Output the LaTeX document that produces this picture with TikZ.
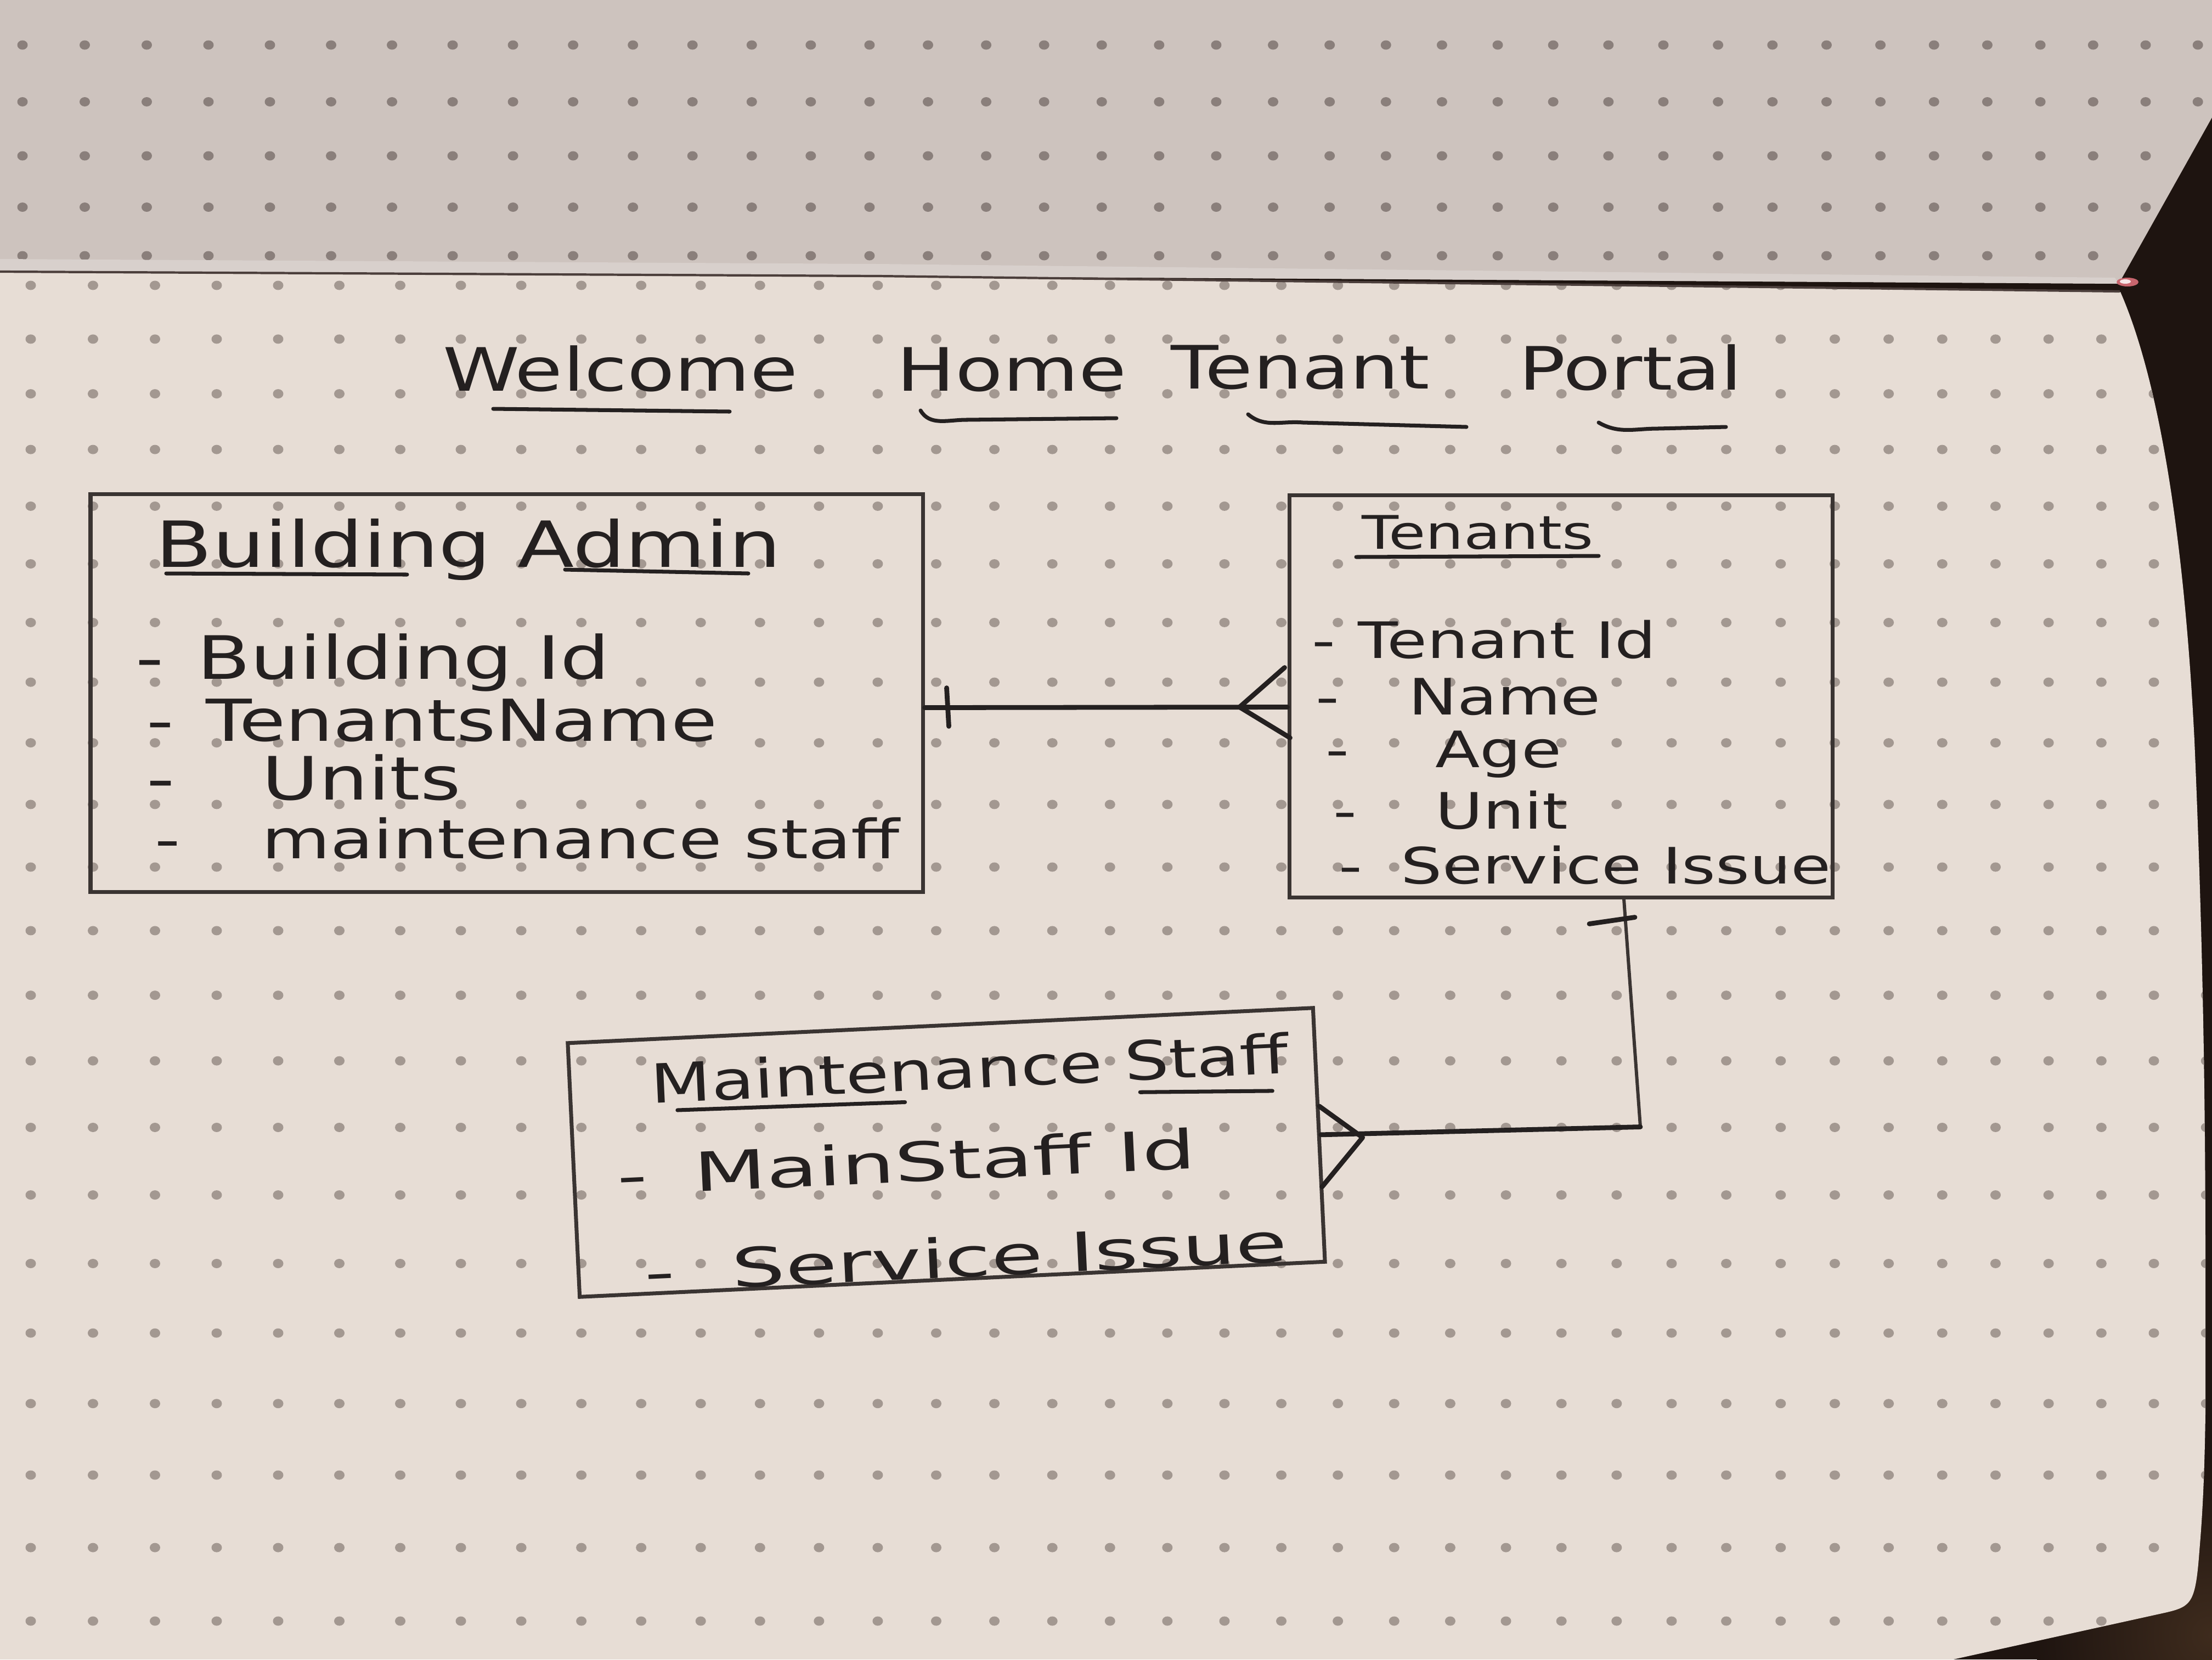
\documentclass[tikz,border=0pt]{standalone}
\usepackage{graphicx}
\usepackage{fontspec}
\setmainfont{DejaVu Sans}[FakeStretch=1.3]
\usetikzlibrary{calc}

\definecolor{paper}{HTML}{E7DDD5}
\definecolor{paperup}{HTML}{CDC3BE}
\definecolor{backdrop}{HTML}{1E1410}
\definecolor{backglow}{HTML}{3E2B1D}
\definecolor{dotlow}{HTML}{A39891}
\definecolor{dotup}{HTML}{8A7F7B}
\definecolor{ink}{HTML}{242020}
\definecolor{pencil}{HTML}{3A3432}
\definecolor{foldline}{HTML}{4B3E3B}
\definecolor{foldhi}{HTML}{D8D0CC}
\definecolor{ribbon}{HTML}{C8666E}

\newcommand{\fsz}[1]{\fontsize{#1}{#1}\selectfont}

\tikzset{
  entity/.style={draw=pencil, line width=2pt, rectangle, inner sep=0pt},
  handtext/.style={inner sep=0pt, anchor=base west, text=ink},
  titleword/.style={inner sep=0pt, anchor=base, text=ink, font={\fsz{31}}},
  uline/.style={draw=ink, line width=2pt, line cap=round},
  link/.style={draw=ink, line width=2.5pt, line cap=round, line join=round},
  thinlink/.style={draw=pencil, line width=1.7pt, line cap=round, line join=round},
}

\begin{document}
\begin{tikzpicture}
\useasboundingbox (0,0) rectangle (40.32,-30.24);

% backdrop behind the notebook
\fill[backdrop] (0,0) rectangle (40.32,-30.24);
\shade[inner color=backglow, outer color=backdrop] (40.3,-29.8) circle (3.2);

% facing page (top)
\fill[paperup] (0,0) -- (40.32,0) -- (40.32,-2.14) -- (38.62,-5.17) -- (16,-5.03) -- (0,-4.95) -- cycle;
\begin{scope}
  \clip (0,0) -- (40.32,0) -- (40.32,-2.14) -- (38.62,-5.17) -- (16,-5.03) -- (0,-4.95) -- cycle;
  \foreach \i in {0,...,38}{
    \foreach \k in {0,...,4}{
      \pgfmathsetmacro\px{0.41+1.1374*\i-0.002467*\i*\i}
      \pgfmathsetmacro\py{-(4.66-0.86*\k-0.025*\k*\k)}
      \fill[dotup] (\px,\py) ellipse (0.095 and 0.085);
    }
  }
\end{scope}
\fill[foldhi] (0,-4.72) -- (16,-4.81) -- (38.55,-5.06) -- (38.62,-5.17) -- (16,-5.03) -- (0,-4.95) -- cycle;

% writing page (bottom)
\fill[paper] (0,-4.95) -- (16,-5.03) -- (38.65,-5.32)
  .. controls (39.3,-6.8) and (39.8,-9.5) .. (40.0,-13.5)
  .. controls (40.15,-17) and (40.2,-20) .. (40.2,-23)
  -- (40.2,-25.75) .. controls (40.18,-27.2) and (40.12,-27.9) .. (40.09,-28.26)
  .. controls (40.02,-29.2) and (39.95,-29.27) .. (39.5,-29.38)
  -- (35.6,-30.24) -- (0,-30.24) -- cycle;
\begin{scope}
  \clip (0,-4.95) -- (16,-5.03) -- (38.65,-5.32)
  .. controls (39.3,-6.8) and (39.8,-9.5) .. (40.0,-13.5)
  .. controls (40.15,-17) and (40.2,-20) .. (40.2,-23)
  -- (40.2,-25.75) .. controls (40.18,-27.2) and (40.12,-27.9) .. (40.09,-28.26)
  .. controls (40.02,-29.2) and (39.95,-29.27) .. (39.5,-29.38)
  -- (35.6,-30.24) -- (0,-30.24) -- cycle;
  \foreach \i in {0,...,38}{
    \foreach \j in {0,...,24}{
      \pgfmathsetmacro\px{0.56+1.1374*\i-0.002467*\i*\i}
      \pgfmathsetmacro\py{-(5.20+0.97*\j+0.009*\j*\j)}
      \fill[dotlow] (\px,\py) ellipse (0.095 and 0.085);
    }
  }
\end{scope}
\draw[foldline, line width=1.2pt] (0,-4.95) -- (16,-5.03) -- (38.64,-5.31);
\fill[ribbon] (38.78,-5.14) ellipse (0.2 and 0.08);
\fill[white!85!ribbon] (38.74,-5.13) ellipse (0.1 and 0.04);

% title
\node[titleword] (tw1) at (11.31,-7.12) {Welcome};
\node[titleword] (tw2) at (18.44,-7.12) {Home};
\node[titleword] (tw3) at (23.70,-7.08) {Tenant};
\node[titleword] (tw4) at (29.72,-7.10) {Portal};
\draw[uline] (8.99,-7.45) -- (13.30,-7.50);
\draw[uline] (16.78,-7.48) to[out=-60,in=180] (17.61,-7.65) -- (20.35,-7.62);
\draw[uline] (22.75,-7.55) to[out=-40,in=175] (23.75,-7.70) -- (26.73,-7.78);
\draw[uline] (29.14,-7.70) to[out=-30,in=180] (30.22,-7.81) -- (31.46,-7.78);

% Building Admin entity
\node[entity, minimum width=15.17cm, minimum height=7.25cm] (ba) at (9.235,-12.625) {};
\node[handtext, font={\fsz{33}}] (baH) at (2.83,-10.33) {Building Admin};
\draw[uline] (3.03,-10.45) -- (7.42,-10.47);
\draw[uline] (10.30,-10.38) -- (13.64,-10.45);
\node[handtext, font={\fsz{31}}] (ba1) at (2.47,-12.37) {-\hspace{0.61cm}Building Id};
\node[handtext, font={\fsz{30}}] (ba2) at (2.67,-13.50) {-\hspace{0.585cm}TenantsName};
\node[handtext, font={\fsz{31}}] (ba3) at (2.67,-14.57) {-\hspace{1.59cm}Units};
\node[handtext, font={\fsz{28}}] (ba4) at (2.82,-15.64) {-\hspace{1.49cm}maintenance staff};

% Tenants entity
\node[entity, minimum width=9.90cm, minimum height=7.33cm] (ten) at (28.45,-12.685) {};
\node[handtext, font={\fsz{24}}] (tenH) at (24.82,-10.00) {Tenants};
\draw[uline] (24.72,-10.15) -- (29.14,-10.13);
\node[handtext, font={\fsz{26}}] (ten1) at (23.91,-11.99) {-\hspace{0.41cm}Tenant Id};
\node[handtext, font={\fsz{26}}] (ten2) at (23.98,-13.02) {-\hspace{1.26cm}Name};
\node[handtext, font={\fsz{26}}] (ten3) at (24.16,-13.98) {-\hspace{1.57cm}Age};
\node[handtext, font={\fsz{26}}] (ten4) at (24.30,-15.10) {-\hspace{1.43cm}Unit};
\node[handtext, font={\fsz{26}}] (ten5) at (24.40,-16.10) {-\hspace{0.70cm}Service Issue};

% Maintenance Staff entity, drawn slightly tilted
\begin{scope}[shift={(17.25,-21.00)}, rotate=2.7, transform shape]
  \node[entity, minimum width=13.6cm, minimum height=4.63cm] (ms) at (0,0) {};
  \node[handtext, font={\fsz{28}}] (msH) at (-5.33,1.15) {Maintenance Staff};
  \draw[uline] (-4.86,1.00) -- (-0.71,0.95);
  \draw[uline] (3.58,0.93) -- (5.99,0.84);
  \node[handtext, font={\fsz{28}}] (ms1) at (-6.02,-0.50) {\scalebox{1.2}[1]{-\hspace{0.705cm}MainStaff Id}};
  \node[handtext, font={\fsz{28}}] (ms2) at (-5.61,-2.28) {\scalebox{1.2}[1]{-\hspace{0.87cm}Service Issue}};
\end{scope}

% Building Admin (one) -- Tenants (many)
\coordinate (c1a) at ($(ba.east)+(0,-0.27)$);
\coordinate (c1b) at ($(ten.west)+(0,-0.20)$);
\draw[link] (c1a) -- (c1b);
\draw[link] ($(c1a)+(0.40,0.36)$) -- ($(c1a)+(0.44,-0.34)$);
\draw[link] ($(c1b)+(-0.05,0.72)$) -- ($(c1b)+(-0.87,0)$) -- ($(c1b)+(0.05,-0.56)$);

% Tenants (one) -- Maintenance Staff (many)
\coordinate (c2a) at ($(ten.south)+(1.15,0)$);
\coordinate (c2b) at ($(c2a)+(0.30,-4.15)$);
\draw[thinlink] (c2a) -- (c2b);
\draw[link] (c2b) -- (ms.east);
\draw[link] ($(c2a)+(-0.63,-0.45)$) -- ($(c2a)+(0.20,-0.33)$);
\draw[link] ($(ms.east)+(-0.03,0.52)$) -- ($(ms.east)+(0.76,-0.05)$) -- ($(ms.east)+(0.02,-0.95)$);
\end{tikzpicture}
\end{document}
